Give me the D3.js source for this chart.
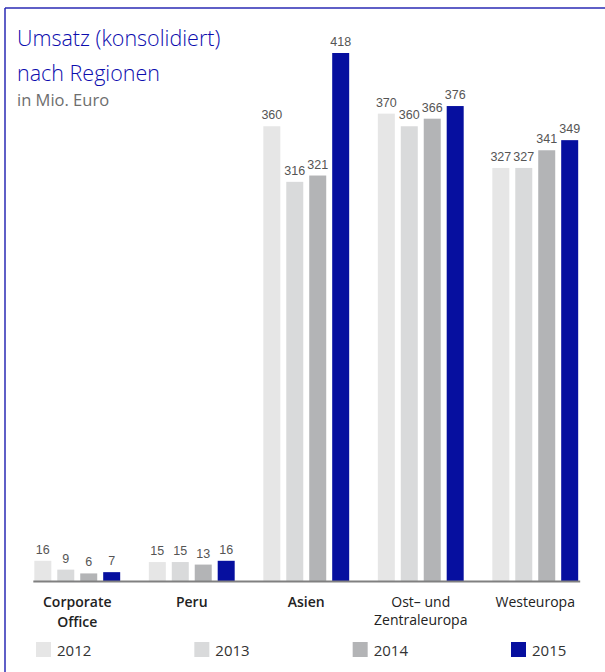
<!DOCTYPE html>
<html>
<head>
<meta charset="utf-8">
<script src="https://cdn.jsdelivr.net/npm/d3@7/dist/d3.min.js"></script>
<style>
  html, body { margin: 0; padding: 0; background: #fff; }
  svg { display: block; }
</style>
</head>
<body>
<svg id="chart" width="605" height="672"></svg>
<script>
// Revenue by region, million euro
const regions = ["Corporate Office", "Peru", "Asien", "Ost– und Zentraleuropa", "Westeuropa"];
const regionLines = [["Corporate", "Office"], ["Peru"], ["Asien"], ["Ost– und", "Zentraleuropa"], ["Westeuropa"]];
const regionBold = [true, true, true, false, false];
const years = ["2012", "2013", "2014", "2015"];
const values2012 = [16, 15, 360, 370, 327];
const values2013 = [9, 15, 316, 360, 327];
const values2014 = [6, 13, 321, 366, 341];
const values2015 = [7, 16, 418, 376, 349];
const yearColors = ["#e6e6e6", "#d9dadb", "#b3b4b6", "#060f9f"];

const seriesByYear = [values2012, values2013, values2014, values2015];
const rows = regions.map((r, i) => ({
  region: r,
  lines: regionLines[i],
  bold: regionBold[i],
  bars: years.map((y, j) => ({ year: y, value: seriesByYear[j][i] }))
}));

const svg = d3.select("#chart");
const font = "'Open Sans', 'Liberation Sans', sans-serif";

// frame: top and left rule
svg.append("line").attr("x1", 5).attr("x2", 605).attr("y1", 8).attr("y2", 8)
  .attr("stroke", "#2a2ab5").attr("stroke-width", 1.5);
svg.append("line").attr("x1", 5).attr("x2", 5).attr("y1", 8).attr("y2", 672)
  .attr("stroke", "#2a2ab5").attr("stroke-width", 1.5);

// title block
svg.append("text").attr("x", 17).attr("y", 46)
  .attr("font-family", font).attr("font-size", 21.5).attr("font-weight", 300)
  .attr("fill", "#0c0cae").text("Umsatz (konsolidiert)");
svg.append("text").attr("x", 17).attr("y", 81)
  .attr("font-family", font).attr("font-size", 21.5).attr("font-weight", 300)
  .attr("fill", "#0c0cae").text("nach Regionen");
svg.append("text").attr("x", 17).attr("y", 106)
  .attr("font-family", font).attr("font-size", 16.5).attr("font-weight", 400)
  .attr("fill", "#6e6e6e").text("in Mio. Euro");

const baseY = 581;
const x0 = d3.scaleBand().domain(regions).range([20, 592.5])
  .paddingInner(0.25).paddingOuter(0.125);
const x1 = d3.scaleBand().domain(years).range([0, x0.bandwidth()]).paddingInner(0.26);
const y = d3.scaleLinear().domain([0, 418]).range([baseY, 53]);

const groups = svg.append("g").selectAll("g").data(rows).join("g")
  .attr("transform", d => `translate(${x0(d.region)},0)`);

groups.selectAll("rect").data(d => d.bars).join("rect")
  .attr("x", d => x1(d.year))
  .attr("y", d => y(d.value))
  .attr("width", x1.bandwidth())
  .attr("height", d => baseY - y(d.value))
  .attr("fill", (d, i) => yearColors[i]);

groups.selectAll("text.val").data(d => d.bars).join("text")
  .attr("class", "val")
  .attr("x", d => x1(d.year) + x1.bandwidth() / 2)
  .attr("y", d => y(d.value) - 7)
  .attr("text-anchor", "middle")
  .attr("font-family", "'Liberation Sans', Arial, sans-serif")
  .attr("font-size", 12.5)
  .attr("fill", "#555")
  .text(d => d.value);

// baseline
svg.append("line")
  .attr("x1", x0(regions[0]) - 1)
  .attr("x2", x0(regions[regions.length - 1]) + x0.bandwidth() + 2)
  .attr("y1", baseY + 0.5).attr("y2", baseY + 0.5)
  .attr("stroke", "#808080").attr("stroke-width", 2);

// category labels
const catLabels = svg.append("g").selectAll("text").data(rows).join("text")
  .attr("x", d => x0(d.region) + x0.bandwidth() / 2)
  .attr("y", 607)
  .attr("text-anchor", "middle")
  .attr("font-family", font)
  .attr("font-size", 14)
  .attr("font-weight", d => d.bold ? 600 : 400)
  .attr("fill", "#222");
catLabels.selectAll("tspan").data(d => d.lines.map(t => ({ t, bold: d.bold }))).join("tspan")
  .attr("x", function() { return d3.select(this.parentNode).attr("x"); })
  .attr("dy", (d, i) => i === 0 ? 0 : (d.bold ? 20 : 18))
  .text(d => d.t);

// legend
const legendX = d3.scalePoint().domain(years).range([36, 511]);
const legend = svg.append("g").selectAll("g").data(years).join("g")
  .attr("transform", d => `translate(${legendX(d)},642)`);
legend.append("rect").attr("width", 15).attr("height", 15)
  .attr("fill", (d, i) => yearColors[i]);
legend.append("text").attr("x", 21).attr("y", 14)
  .attr("font-family", font).attr("font-size", 15)
  .attr("fill", "#333").text(d => d);
</script>
</body>
</html>
